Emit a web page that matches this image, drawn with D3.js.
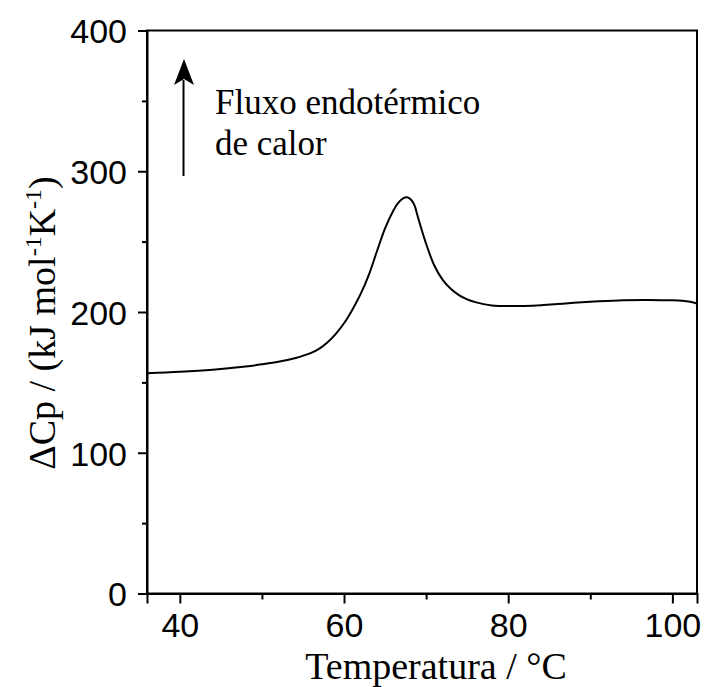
<!DOCTYPE html>
<html>
<head>
<meta charset="utf-8">
<script src="https://cdn.jsdelivr.net/npm/d3@7"></script>
<style>
  html, body { margin: 0; padding: 0; background: #fff; }
  svg { display: block; }
</style>
</head>
<body>
<div id="chart"></div>
<script>
// DSC thermogram: excess heat capacity vs temperature
const temperature = [36, 40, 44, 48, 50, 52, 54, 56, 57, 58, 59, 60, 61, 62, 63, 64, 65, 66, 66.6, 67.2, 67.7, 68.2, 68.6, 69, 70, 71, 72, 73, 74, 75, 76, 77, 78, 80, 82, 84, 86, 88, 91, 94, 97, 100, 102, 103];
const deltaCp = [156.5, 157.5, 159, 161.3, 162.8, 164.6, 167.2, 171, 174, 178.5, 184.5, 192, 201.5, 212.5, 226, 243, 259.5, 272, 277.5, 280.8, 281.5, 279.6, 275.5, 267.5, 248.5, 233, 223, 216.5, 212, 209, 207, 205.6, 204.7, 204.2, 204.3, 204.8, 205.6, 206.5, 207.6, 208.4, 208.6, 208.3, 207.4, 206];

const xTicks = [40, 60, 80, 100];
const xMinorTicks = [50, 70, 90];
const yTicks = [0, 100, 200, 300, 400];
const yMinorTicks = [50, 150, 250, 350];

const xDomain = [36, 103];
const yDomain = [0, 400];

const W = 704, H = 687;
const margin = { left: 147, right: 7, top: 30.5, bottom: 93.5 };

const svg = d3.select("#chart").append("svg")
  .attr("width", W).attr("height", H);

const x = d3.scaleLinear().domain(xDomain).range([margin.left, W - margin.right]);
const y = d3.scaleLinear().domain(yDomain).range([H - margin.bottom, margin.top]);

const sans = "'Liberation Sans', Arial, Helvetica, sans-serif";
const serif = "'Liberation Serif', 'Times New Roman', Times, serif";

// frame
svg.append("rect")
  .attr("x", x(xDomain[0])).attr("y", y(yDomain[1]))
  .attr("width", x(xDomain[1]) - x(xDomain[0]))
  .attr("height", y(yDomain[0]) - y(yDomain[1]))
  .attr("fill", "none").attr("stroke", "#000").attr("stroke-width", 2);

// bottom axis: major and minor ticks
const xAxis = svg.append("g")
  .attr("transform", `translate(0,${y(0)})`)
  .call(d3.axisBottom(x).tickValues(xTicks).tickSize(10).tickPadding(6).tickFormat(d3.format("d")));
svg.append("g")
  .attr("transform", `translate(0,${y(0)})`)
  .call(d3.axisBottom(x).tickValues(xMinorTicks).tickSize(6).tickFormat(""))
  .call(g => g.select(".domain").remove());

// left axis: major and minor ticks
const yAxis = svg.append("g")
  .attr("transform", `translate(${x(xDomain[0])},0)`)
  .call(d3.axisLeft(y).tickValues(yTicks).tickSize(9).tickPadding(11).tickFormat(d3.format("d")));
svg.append("g")
  .attr("transform", `translate(${x(xDomain[0])},0)`)
  .call(d3.axisLeft(y).tickValues(yMinorTicks).tickSize(5).tickFormat(""))
  .call(g => g.select(".domain").remove());

svg.selectAll(".domain").attr("stroke-width", 2);
svg.selectAll(".tick line").attr("stroke", "#000").attr("stroke-width", 2);
svg.selectAll(".tick text")
  .attr("font-family", sans).attr("font-size", 34).attr("fill", "#000");
xAxis.selectAll(".tick text").attr("dy", "0.8em");
yAxis.selectAll(".tick text").attr("dy", "0.36em");

// curve
const line = d3.line()
  .x((d, i) => x(temperature[i]))
  .y(d => y(d))
  .curve(d3.curveCatmullRom.alpha(0.5));

svg.append("path")
  .datum(deltaCp)
  .attr("d", line)
  .attr("fill", "none")
  .attr("stroke", "#000")
  .attr("stroke-width", 2)
  .attr("stroke-linejoin", "round");

// axis titles
svg.append("text")
  .attr("x", 436).attr("y", 679)
  .attr("text-anchor", "middle")
  .attr("font-family", serif).attr("font-size", 38)
  .text("Temperatura / °C");

const yTitle = svg.append("text")
  .attr("transform", `translate(55,323) rotate(-90)`)
  .attr("text-anchor", "middle")
  .attr("font-family", serif).attr("font-size", 38);
yTitle.append("tspan").text("\u0394Cp / (kJ mol");
yTitle.append("tspan").attr("dy", -14).attr("font-size", 24).text("-1");
yTitle.append("tspan").attr("dy", 14).text("K");
yTitle.append("tspan").attr("dy", -14).attr("font-size", 24).text("-1");
yTitle.append("tspan").attr("dy", 14).text(")");

// annotation arrow (heat flow direction)
svg.append("path")
  .attr("d", "M183.5,176 L183.5,80")
  .attr("stroke", "#000").attr("stroke-width", 2)
  .attr("fill", "none");
svg.append("path")
  .attr("d", "M184,59 L194,85 L184,79 L174,85 Z")
  .attr("fill", "#000");

const note = svg.append("text")
  .attr("font-family", serif).attr("font-size", 35).attr("fill", "#000");
note.append("tspan").attr("x", 215).attr("y", 114).text("Fluxo endotérmico");
note.append("tspan").attr("x", 215).attr("y", 155).text("de calor");
</script>
</body>
</html>
